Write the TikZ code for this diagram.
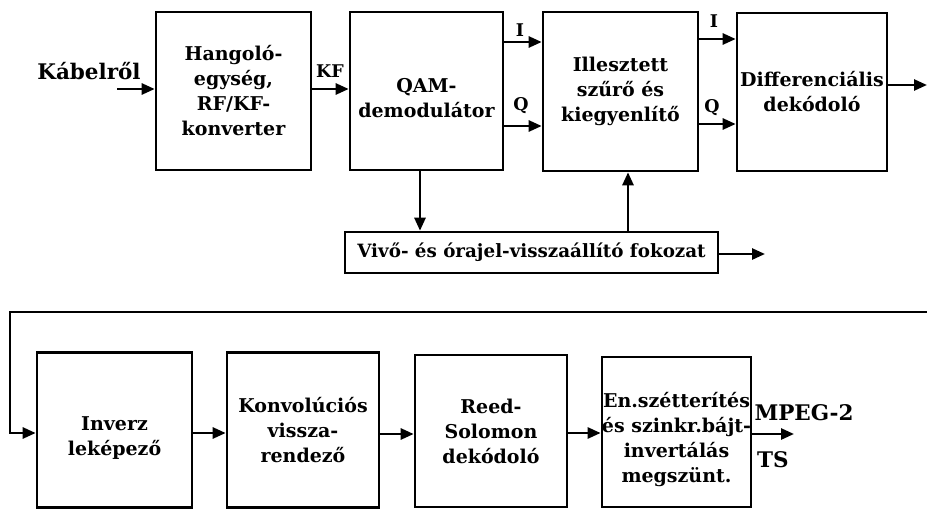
\documentclass[tikz,border=0pt]{standalone}
\usepackage{fontspec}
\setmainfont{DejaVu Serif}
\usetikzlibrary{arrows.meta}
\newcommand{\topstrut}[1]{\rule{0pt}{#1}}
\begin{document}
\begin{tikzpicture}[x=1pt,y=-1pt,
  blk/.style={draw=black,line width=2.6pt,fill=white,inner sep=0pt,align=center,
    font=\bfseries\fontsize{19}{25}\selectfont},
  lbl/.style={inner sep=0pt,font=\bfseries\fontsize{17.5}{20}\selectfont},
  bigl/.style={inner sep=0pt,font=\bfseries\fontsize{21.5}{24}\selectfont},
  conn/.style={line width=2.6pt,-{Triangle[length=13pt,width=11pt]}}]
\fill[white] (0,0) rectangle (927,509);
\useasboundingbox (0,0) rectangle (927,509);
% upper row
\node[blk,minimum width=155pt,minimum height=158pt] (tun) at (233.5,91) {Hangoló-\\egység,\\RF/KF-\\konverter};
\node[blk,minimum width=153pt,minimum height=158pt] (qam) at (426.5,91) {\topstrut{28pt}QAM-\\demodulátor};
\node[blk,minimum width=155pt,minimum height=159pt] (mf) at (620.5,91.5) {Illesztett\\szűrő és\\kiegyenlítő};
\node[blk,minimum width=150pt,minimum height=158pt] (dif) at (812,92) {Differenciális\\dekódoló};
\node[blk,minimum width=373pt,minimum height=41pt,font=\bfseries\fontsize{18.3}{24}\selectfont] (viv) at (531.5,252.5) {Vivő- és órajel-visszaállító fokozat};
% lower row
\node[blk,minimum width=155pt,minimum height=155pt] (inv) at (114.5,430) {\topstrut{29pt}Inverz\\leképező};
\node[blk,minimum width=152pt,minimum height=155pt] (konv) at (303,430) {Konvolúciós\\vissza-\\rendező};
\node[blk,minimum width=152pt,minimum height=152pt] (rs) at (491,431) {Reed-\\Solomon\\dekódoló};
\node[blk,minimum width=149pt,minimum height=150pt] (ens) at (676.5,432) {\topstrut{30pt}En.szétterítés\\és szinkr.bájt-\\invertálás\\megszünt.};
% labels
\node[bigl] (kab) at (89,71) {Kábelről};
\node[lbl] (kf) at (330,71) {KF};
\node[lbl] (i1) at (520,30) {I};
\node[lbl] (q1) at (521,106) {Q};
\node[lbl] (i2) at (714,21) {I};
\node[lbl] (q2) at (712,108) {Q};
\node[bigl] (mpeg) at (804,413) {MPEG-2};
\node[bigl] (ts) at (773,460) {TS};
% free ends
\coordinate (kin) at (117,89);
\coordinate (difout) at (927,85);
\coordinate (vivout) at (765,254);
\coordinate (tsout) at (794,434);
\coordinate (rin) at (927,312);
\coordinate (lc1) at (10,312);
\coordinate (lc2) at (10,433);
% connectors
\draw[conn] (kin) -- (kin -| tun.west);
\draw[conn] (tun.east |- 0,89) -- (qam.west |- 0,89);
\draw[conn] (qam.east |- 0,42) -- (mf.west |- 0,42);
\draw[conn] (qam.east |- 0,126) -- (mf.west |- 0,126);
\draw[conn] (mf.east |- 0,39) -- (dif.west |- 0,39);
\draw[conn] (mf.east |- 0,124) -- (dif.west |- 0,124);
\draw[conn] (dif.east |- difout) -- (difout);
\draw[conn] (qam.south -| 420,0) -- (viv.north -| 420,0);
\draw[conn] (viv.north -| 628,0) -- (mf.south -| 628,0);
\draw[conn] (viv.east |- vivout) -- (vivout);
\draw[conn] (rin) -- (lc1) -- (lc2) -- (lc2 -| inv.west);
\draw[conn] (inv.east |- 0,433) -- (konv.west |- 0,433);
\draw[conn] (konv.east |- 0,434) -- (rs.west |- 0,434);
\draw[conn] (rs.east |- 0,433) -- (ens.west |- 0,433);
\draw[conn] (ens.east |- tsout) -- (tsout);
\end{tikzpicture}
\end{document}
